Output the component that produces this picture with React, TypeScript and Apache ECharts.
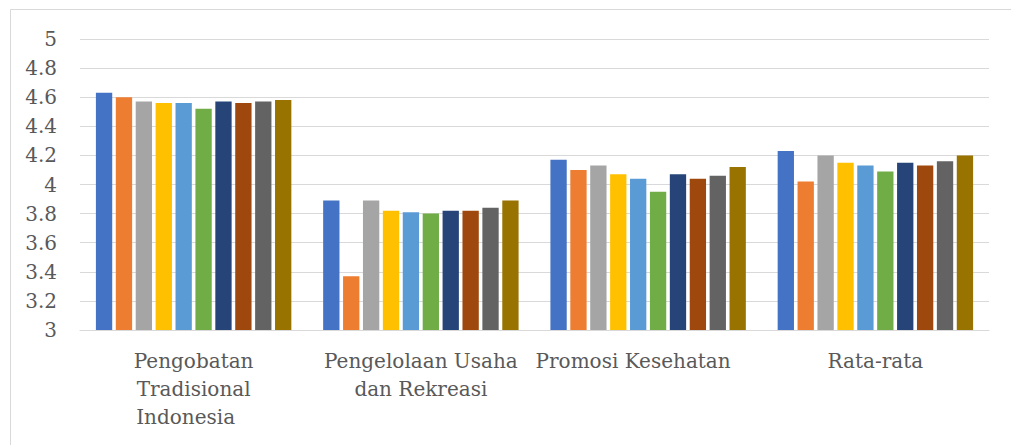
import React, { useEffect, useRef } from "react";
import * as echarts from "echarts";

const categories = [
  "Pengobatan\nTradisional\nIndonesia",
  "Pengelolaan Usaha\ndan Rekreasi",
  "Promosi Kesehatan",
  "Rata-rata",
];

const yTicks = { min: 3, max: 5, interval: 0.2 };

const s1 = [4.63, 3.89, 4.17, 4.23];
const s2 = [4.6, 3.37, 4.1, 4.02];
const s3 = [4.57, 3.89, 4.13, 4.2];
const s4 = [4.56, 3.82, 4.07, 4.15];
const s5 = [4.56, 3.81, 4.04, 4.13];
const s6 = [4.52, 3.8, 3.95, 4.09];
const s7 = [4.57, 3.82, 4.07, 4.15];
const s8 = [4.56, 3.82, 4.04, 4.13];
const s9 = [4.57, 3.84, 4.06, 4.16];
const s10 = [4.58, 3.89, 4.12, 4.2];

const seriesData = [s1, s2, s3, s4, s5, s6, s7, s8, s9, s10];
const seriesNames = ["1", "2", "3", "4", "5", "6", "7", "8", "9", "10"];
const colors = [
  "#4472C4",
  "#ED7D31",
  "#A5A5A5",
  "#FFC000",
  "#5B9BD5",
  "#70AD47",
  "#264478",
  "#9E480E",
  "#636363",
  "#997300",
];

export default function App() {
  const ref = useRef<HTMLDivElement>(null);
  useEffect(() => {
    if (!ref.current) return;
    const chart = echarts.init(ref.current, undefined, { renderer: "svg" });
    const font = "'DejaVu Serif', serif";
    const base = { color: "#595959", fontFamily: font, fontSize: 20, lineHeight: 28 };
    chart.setOption({
      animation: false,
      color: colors,
      graphic: [
        {
          type: "rect",
          shape: { x: 10.5, y: 9.5, width: 1100, height: 500 },
          style: { fill: "none", stroke: "#d9d9d9", lineWidth: 1 },
          silent: true,
        },
      ],
      grid: { left: 80, right: 22, top: 39, bottom: 115, containLabel: false },
      xAxis: {
        type: "category",
        data: categories,
        axisLine: { show: true, lineStyle: { color: "#d9d9d9", width: 1 } },
        axisTick: { show: false },
        axisLabel: {
          ...base,
          margin: 17,
          interval: 0,
          formatter: (v: string, i: number) => {
            if (i === 2) return `{p|${v}}`;
            if (i === 0) {
              const lines = v.split("\n");
              return `{n|${lines[0]}}\n{n|${lines[1]}}\n{q|${lines[2]}}`;
            }
            return v;
          },
          rich: {
            n: { ...base },
            p: { ...base, padding: [0, 30, 0, 0] },
            q: { ...base, padding: [0, 16, 0, 0] },
          },
        },
      },
      yAxis: {
        type: "value",
        min: yTicks.min,
        max: yTicks.max,
        interval: yTicks.interval,
        axisLine: { show: false },
        axisTick: { show: false },
        splitLine: { lineStyle: { color: "#d9d9d9", width: 1 } },
        axisLabel: {
          color: "#595959",
          fontFamily: font,
          fontSize: 20,
          margin: 23,
          formatter: (v: number) => String(Math.round(v * 10) / 10),
        },
      },
      series: seriesData.map((d, i) => ({
        type: "bar",
        name: seriesNames[i],
        data: d,
        barGap: "22%",
        barCategoryGap: "14%",
        itemStyle: { color: colors[i] },
      })),
    });
    return () => chart.dispose();
  }, []);
  return (
    <div
      ref={ref}
      style={{ position: "fixed", left: 0, top: 0, width: 1011, height: 445, background: "#fff" }}
    />
  );
}
